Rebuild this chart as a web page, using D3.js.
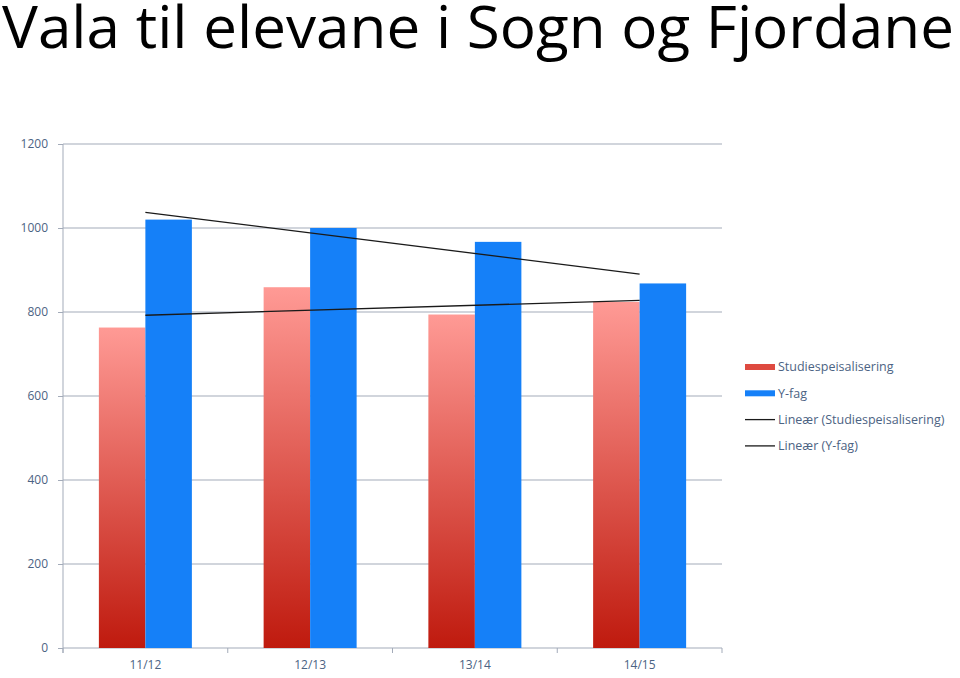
<!DOCTYPE html>
<html>
<head>
<meta charset="utf-8">
<script src="https://cdn.jsdelivr.net/npm/d3@7"></script>
<style>
  body { margin: 0; background: #fff; }
  svg { display: block; }
</style>
</head>
<body>
<svg width="960" height="678"></svg>
<script>
const years = ["11/12", "12/13", "13/14", "14/15"];
const studiespes = [763, 859, 794, 824];
const yfag = [1020, 1000, 967, 868];
const yTicks = [0, 200, 400, 600, 800, 1000, 1200];
const seriesNames = ["Studiespeisalisering", "Y-fag"];

const svg = d3.select("svg");
const pxL = 63, pxR = 722, pxT = 144, pxB = 648;
const axisCol = "#a3abb9", labelCol = "#4c6383";

// title
svg.append("text")
   .attr("x", 2).attr("y", 48)
   .attr("font-family", "'Open Sans', sans-serif")
   .attr("font-size", 58)
   .attr("textLength", 952).attr("lengthAdjust", "spacingAndGlyphs")
   .attr("fill", "#000")
   .text("Vala til elevane i Sogn og Fjordane");

let scX = d3.scaleBand().domain(years).range([pxL, pxR]);
let scY = d3.scaleLinear().domain([0, 1200]).range([pxB, pxT]);
let barW = 46.5;

// gradient for the red bars
let grad = svg.append("defs").append("linearGradient")
              .attr("id", "redGrad").attr("x1", 0).attr("y1", 0).attr("x2", 0).attr("y2", 1);
grad.append("stop").attr("offset", "0%").attr("stop-color", "#ff9a95");
grad.append("stop").attr("offset", "100%").attr("stop-color", "#bf1a0e");

// grid lines
svg.append("g")
   .selectAll("line")
   .data(yTicks.slice(1))
   .enter().append("line")
   .attr("x1", pxL).attr("x2", pxR)
   .attr("y1", d => scY(d)).attr("y2", d => scY(d))
   .attr("stroke", axisCol).attr("stroke-width", 1);

// y axis
let yAx = svg.append("g").attr("transform", `translate(${pxL},0)`)
             .call(d3.axisLeft(scY).tickValues(yTicks).tickFormat(d3.format("d"))
                     .tickSize(5).tickPadding(10));
yAx.select(".domain").attr("stroke", axisCol).attr("d", `M0,${pxT}V${pxB + 5}`);
yAx.selectAll(".tick line").attr("stroke", axisCol);
yAx.selectAll("text").attr("fill", labelCol)
   .attr("font-family", "'Open Sans', sans-serif").attr("font-size", 12);

// x axis
let xAx = svg.append("g").attr("transform", `translate(0,${pxB})`)
             .call(d3.axisBottom(scX).tickSize(0).tickPadding(12));
xAx.select(".domain").attr("stroke", axisCol).attr("d", `M${pxL},0H${pxR}`);
xAx.selectAll("text").attr("fill", labelCol)
   .attr("font-family", "'Open Sans', sans-serif").attr("font-size", 12);
svg.append("g")
   .selectAll("line")
   .data(d3.range(years.length + 1))
   .enter().append("line")
   .attr("x1", i => pxL + i * scX.step()).attr("x2", i => pxL + i * scX.step())
   .attr("y1", pxB).attr("y2", pxB + 5)
   .attr("stroke", axisCol);

// bars
let mid = d => scX(d) + scX.bandwidth() / 2;
svg.append("g")
   .selectAll("rect")
   .data(years)
   .enter().append("rect")
   .attr("x", d => mid(d) - barW).attr("width", barW)
   .attr("y", (d, i) => scY(studiespes[i]))
   .attr("height", (d, i) => scY(0) - scY(studiespes[i]))
   .attr("fill", "url(#redGrad)");
svg.append("g")
   .selectAll("rect")
   .data(years)
   .enter().append("rect")
   .attr("x", d => mid(d)).attr("width", barW)
   .attr("y", (d, i) => scY(yfag[i]))
   .attr("height", (d, i) => scY(0) - scY(yfag[i]))
   .attr("fill", "#1580f8");

// linear trend lines
function trend(vals) {
  let xs = vals.map((v, i) => i + 1);
  let mx = d3.mean(xs), my = d3.mean(vals);
  let slope = d3.sum(xs, (x, i) => (x - mx) * (vals[i] - my)) / d3.sum(xs, x => (x - mx) ** 2);
  return years.map((y, i) => ({ cat: y, v: my + slope * (xs[i] - mx) }));
}
let lineMaker = d3.line().x(d => mid(d.cat)).y(d => scY(d.v));
let tr = [trend(studiespes), trend(yfag)];
svg.append("g")
   .selectAll("path")
   .data(tr)
   .enter().append("path")
   .attr("fill", "none").attr("stroke", "#1a1a1a").attr("stroke-width", 1.3)
   .attr("d", d => lineMaker([d[0], d[d.length - 1]]));

// legend
let leg = svg.append("g").attr("transform", "translate(745,367)")
             .attr("font-family", "'Open Sans', sans-serif").attr("font-size", 12.5)
             .attr("fill", labelCol);
let legItems = [
  { name: seriesNames[0], kind: "bar", fill: "#de4a40" },
  { name: seriesNames[1], kind: "bar", fill: "#1580f8" },
  { name: "Lineær (" + seriesNames[0] + ")", kind: "line" },
  { name: "Lineær (" + seriesNames[1] + ")", kind: "line" }
];
legItems.forEach((it, i) => {
  let g = leg.append("g").attr("transform", `translate(0,${i * 26.3})`);
  if (it.kind === "bar") {
    g.append("rect").attr("x", 0).attr("y", -3).attr("width", 30).attr("height", 6).attr("fill", it.fill);
  } else {
    g.append("line").attr("x1", 0).attr("x2", 30).attr("y1", 0).attr("y2", 0)
     .attr("stroke", "#1a1a1a").attr("stroke-width", 1.3);
  }
  g.append("text").attr("x", 33).attr("y", 0).attr("dy", "0.35em").text(it.name);
});
</script>
</body>
</html>
